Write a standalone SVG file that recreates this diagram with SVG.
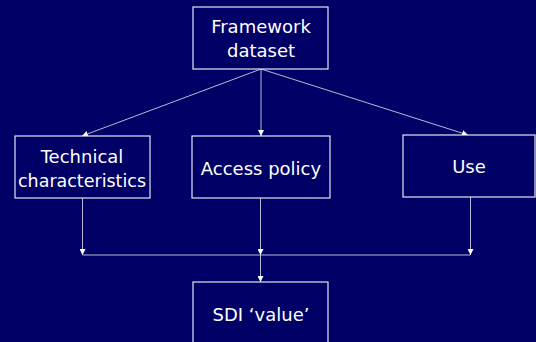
<svg xmlns="http://www.w3.org/2000/svg" width="536" height="342" viewBox="0 0 536 342">
<style>
.box{fill:#000066;stroke:#e6e6f2;stroke-width:1.2}
.lbl{font-family:"DejaVu Sans",Verdana,sans-serif;font-size:18px;fill:#ffffff;text-anchor:middle}
.con{stroke:#b8b8d8;stroke-width:1;fill:none}
</style>
<defs>
<marker id="ah" viewBox="0 0 10 10" refX="10" refY="5" markerWidth="6" markerHeight="6" orient="auto" markerUnits="userSpaceOnUse">
<path d="M0,0 L10,5 L0,10 z" fill="#ffffff"/>
</marker>
</defs>
<rect width="536" height="342" fill="#000066"/>
<g id="connectors">
<line class="con" x1="261" y1="69" x2="82" y2="136" marker-end="url(#ah)"/>
<line class="con" x1="261" y1="69" x2="261" y2="136" marker-end="url(#ah)"/>
<line class="con" x1="261" y1="69" x2="468" y2="135" marker-end="url(#ah)"/>
<line class="con" x1="82.5" y1="198" x2="82.5" y2="255" marker-end="url(#ah)"/>
<line class="con" x1="260.5" y1="198" x2="260.5" y2="255" marker-end="url(#ah)"/>
<line class="con" x1="470.5" y1="197" x2="470.5" y2="255" marker-end="url(#ah)"/>
<line class="con" x1="82.5" y1="255" x2="470.5" y2="255"/>
<line class="con" x1="260.5" y1="255" x2="260.5" y2="282" marker-end="url(#ah)"/>
</g>
<g id="framework">
<rect class="box" x="193" y="7" width="135" height="62"/>
<text class="lbl" x="261" y="33">Framework</text>
<text class="lbl" x="261" y="57">dataset</text>
</g>
<g id="technical">
<rect class="box" x="15" y="136" width="135" height="62"/>
<text class="lbl" x="82" y="163">Technical</text>
<text class="lbl" x="82" y="187" textLength="128" lengthAdjust="spacingAndGlyphs">characteristics</text>
</g>
<g id="access">
<rect class="box" x="192" y="136" width="138" height="62"/>
<text class="lbl" x="261" y="175">Access policy</text>
</g>
<g id="use">
<rect class="box" x="403" y="135" width="132" height="62"/>
<text class="lbl" x="469" y="173">Use</text>
</g>
<g id="sdi">
<rect class="box" x="193" y="282" width="135" height="70"/>
<text class="lbl" x="261" y="321">SDI ‘value’</text>
</g>
</svg>
